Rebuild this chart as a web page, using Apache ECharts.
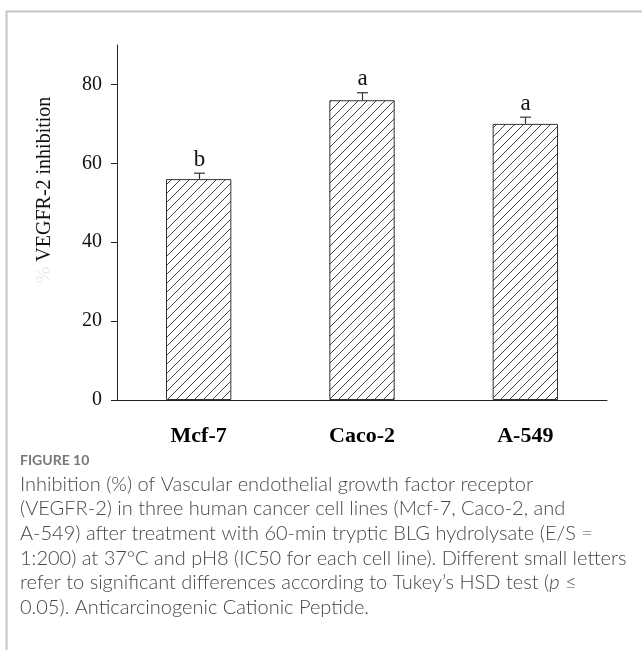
<!DOCTYPE html>
<html>
<head>
<meta charset="utf-8">
<script src="https://cdn.jsdelivr.net/npm/echarts@6/dist/echarts.min.js"></script>
<style>
html,body{margin:0;padding:0;background:#fff;}
#chart{width:642px;height:650px;}
</style>
</head>
<body>
<div id="chart"></div>
<script>
// ---- data ----
var categories = ['Mcf-7', 'Caco-2', 'A-549'];
var values = [56, 76, 70];
var errors = [1.5, 1.9, 1.7];
var letters = ['b', 'a', 'a'];
var yTicks = [0, 20, 40, 60, 80];
var yMax = 90;
var yTitle = 'VEGFR-2 inhibition';
var figLabel = 'FIGURE 10';
var captionLines = [
  'Inhibition (%) of Vascular endothelial growth factor receptor',
  '(VEGFR-2) in three human cancer cell lines (Mcf-7, Caco-2, and',
  'A-549) after treatment with 60-min tryptic BLG hydrolysate (E/S =',
  '1:200) at 37°C and pH8 (IC50 for each cell line). Different small letters',
  'refer to significant differences according to Tukey\u2019s HSD test ({i|p} \u2264',
  '0.05). Anticarcinogenic Cationic Peptide.'
];

// caption font size fitted so the longest line spans ~606px
var capFont = 'Lato';
var capWeight = 300;
var mc = document.createElement('canvas').getContext('2d');
mc.font = capWeight + ' 100px ' + capFont;
var wLong = mc.measureText(captionLines[3]).width;
var capSize = Math.round(606 / wLong * 100 * 10) / 10;

// hatch pattern
var P = 9;
var pc = document.createElement('canvas');
pc.width = P; pc.height = P;
var g = pc.getContext('2d');
g.fillStyle = '#fff'; g.fillRect(0, 0, P, P);
g.strokeStyle = '#444'; g.lineWidth = 1;
g.beginPath();
g.moveTo(0, P); g.lineTo(P, 0);
g.moveTo(-2, 2); g.lineTo(2, -2);
g.moveTo(P - 2, P + 2); g.lineTo(P + 2, P - 2);
g.stroke();

var chart = echarts.init(document.getElementById('chart'));
var serif = '"Liberation Serif", "Times New Roman", serif';

var errData = values.map(function (v, i) { return [i, v, v + errors[i], letters[i]]; });

chart.setOption({
  animation: false,
  grid: { left: 117, right: 35, top: 45, bottom: 250 },
  xAxis: {
    type: 'category',
    data: categories,
    axisLine: { lineStyle: { color: '#222', width: 1 } },
    axisTick: { alignWithLabel: true, length: 5, lineStyle: { color: '#222' } },
    axisLabel: { fontFamily: serif, fontWeight: 'bold', fontSize: 22, color: '#000', margin: 25 }
  },
  yAxis: {
    type: 'value',
    min: 0, max: yMax, interval: 20,
    splitLine: { show: false },
    axisLine: { show: true, lineStyle: { color: '#222', width: 1 } },
    axisTick: { show: true, length: 6, customValues: yTicks, lineStyle: { color: '#222' } },
    axisLabel: { fontFamily: serif, fontSize: 20, color: '#111', margin: 15, customValues: yTicks }
  },
  series: [
    {
      type: 'bar',
      data: values,
      barWidth: '40%',
      itemStyle: {
        color: { image: pc, repeat: 'repeat' },
        borderColor: '#333',
        borderWidth: 1
      }
    },
    {
      type: 'custom',
      data: errData,
      z: 5,
      renderItem: function (params, api) {
        var top = api.coord([api.value(0), api.value(2)]);
        var base = api.coord([api.value(0), api.value(1)]);
        var x = Math.round(top[0]) + 0.5;
        return {
          type: 'group',
          children: [
            { type: 'line', shape: { x1: x, y1: base[1], x2: x, y2: top[1] }, style: { stroke: '#333', lineWidth: 1.2 } },
            { type: 'line', shape: { x1: x - 5.5, y1: top[1], x2: x + 5.5, y2: top[1] }, style: { stroke: '#333', lineWidth: 1.2 } },
            { type: 'text', style: { text: api.value(3), x: x, y: top[1] - 2, align: 'center', verticalAlign: 'bottom', fontFamily: serif, fontSize: 23, fill: '#111' } }
          ]
        };
      }
    }
  ],
  graphic: [
    { type: 'polyline', shape: { points: [[6.5, 650], [6.5, 11.5], [642, 11.5]] }, style: { stroke: '#c4c4c4', lineWidth: 2, fill: null } },
    { type: 'text', x: 45, y: 190, rotation: Math.PI / 2, style: { text: '{f|%} ' + yTitle, align: 'center', verticalAlign: 'middle', fontFamily: serif, fontSize: 20, fill: '#111',
      rich: { f: { fontFamily: serif, fontSize: 20, fill: '#ebebeb', color: '#ebebeb' } } } },
    { type: 'text', left: 20, top: 453, style: { text: figLabel, fontFamily: 'Lato, "Open Sans", sans-serif', fontWeight: 'bold', fontSize: 14, fill: '#777' } },
    { type: 'text', left: 20, top: 472, style: { text: captionLines.join('\n'), fontFamily: capFont + ', "Open Sans", sans-serif', fontWeight: capWeight, fontSize: capSize, lineHeight: 24.6, fill: '#474747',
      rich: { i: { fontStyle: 'italic', fontWeight: capWeight, fontFamily: capFont + ', sans-serif', fontSize: capSize, fill: '#474747' } } } }
  ]
});
</script>
</body>
</html>
